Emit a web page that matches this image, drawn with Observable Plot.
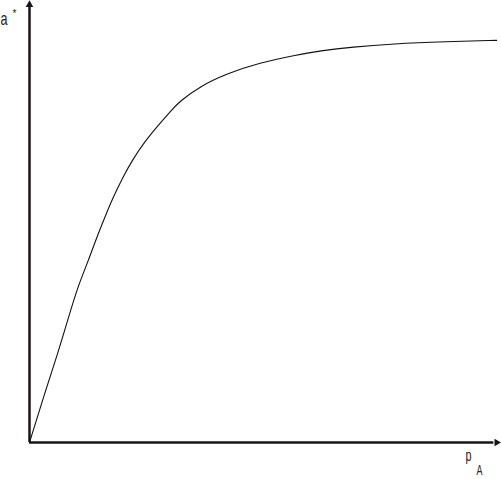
<!DOCTYPE html>
<html>
<head>
<meta charset="utf-8">
<script src="https://cdn.jsdelivr.net/npm/d3@7"></script>
<script src="https://cdn.jsdelivr.net/npm/@observablehq/plot@0.6"></script>
<style>
  html, body { margin: 0; padding: 0; background: #fff; }
  svg { display: block; }
</style>
</head>
<body>
<div id="chart"></div>
<script>
// Curve values (p_A on x, a* on y)
const pA = [0, 0.32, 0.60, 0.81, 1.02, 1.23, 1.43, 1.60, 1.77, 1.98, 2.19, 2.45, 2.77, 3.02, 3.19, 3.62, 4.19, 4.89, 5.70, 6.17, 6.87, 7.72, 8.87, 9.94];
const aStar = [0, 0.111, 0.202, 0.277, 0.352, 0.407, 0.466, 0.511, 0.555, 0.602, 0.642, 0.684, 0.725, 0.755, 0.775, 0.809, 0.838, 0.863, 0.881, 0.890, 0.899, 0.906, 0.911, 0.914];
const xMax = 10.0;
const yMax = 1.0;

const curve = pA.map((x, i) => ({x, y: aStar[i]}));

const plot = Plot.plot({
  width: 501,
  height: 479,
  marginTop: 0, marginBottom: 0, marginLeft: 0, marginRight: 0,
  x: {domain: [0, xMax], range: [29, 499], axis: null},
  y: {domain: [0, yMax], range: [442, 2], axis: null},
  style: {background: "#fff", fontFamily: "'Liberation Sans', Arial, sans-serif"},
  marks: [
    Plot.ruleX([0], {y1: 0, y2: yMax - 0.01, stroke: "#1a1414", strokeWidth: 2.5}),
    Plot.ruleY([0], {x1: 0, x2: xMax - 0.12, stroke: "#1a1414", strokeWidth: 2.5}),
    Plot.dot([{x: 0, y: yMax - 0.005}], {x: "x", y: "y", symbol: "triangle", r: 2.8, fill: "#1a1414", stroke: "none"}),
    Plot.dot([{x: xMax - 0.06, y: 0}], {x: "x", y: "y", symbol: "triangle", r: 2.8, rotate: 90, fill: "#1a1414", stroke: "none"}),
    Plot.line(curve, {x: "x", y: "y", stroke: "#111", strokeWidth: 1.1, curve: "basis"}),
    Plot.text(["a"], {frameAnchor: "top-left", dx: 0, dy: 18, text: d => d, textAnchor: "start", lineAnchor: "middle", fontSize: 19, fill: "#222", className: "lbl-a"}),
    Plot.text(["*"], {frameAnchor: "top-left", dx: 12, dy: 13, text: d => d, textAnchor: "start", lineAnchor: "middle", fontSize: 10, fill: "#222"}),
    Plot.text(["p"], {frameAnchor: "bottom-right", dx: -36, dy: -24, text: d => d, textAnchor: "start", lineAnchor: "middle", fontSize: 17, fill: "#222", className: "lbl-p"}),
    Plot.text(["A"], {frameAnchor: "bottom-right", dx: -25, dy: -9, text: d => d, textAnchor: "start", lineAnchor: "middle", fontSize: 14, fill: "#222", className: "lbl-A"})
  ]
});

document.getElementById("chart").appendChild(plot);

// condensed glyphs like the reference
const squeeze = (cls, len) => {
  plot.querySelectorAll("." + cls + " text").forEach(t => {
    t.setAttribute("textLength", len);
    t.setAttribute("lengthAdjust", "spacingAndGlyphs");
  });
};
squeeze("lbl-a", 7);
squeeze("lbl-p", 6);
squeeze("lbl-A", 6);
</script>
</body>
</html>
